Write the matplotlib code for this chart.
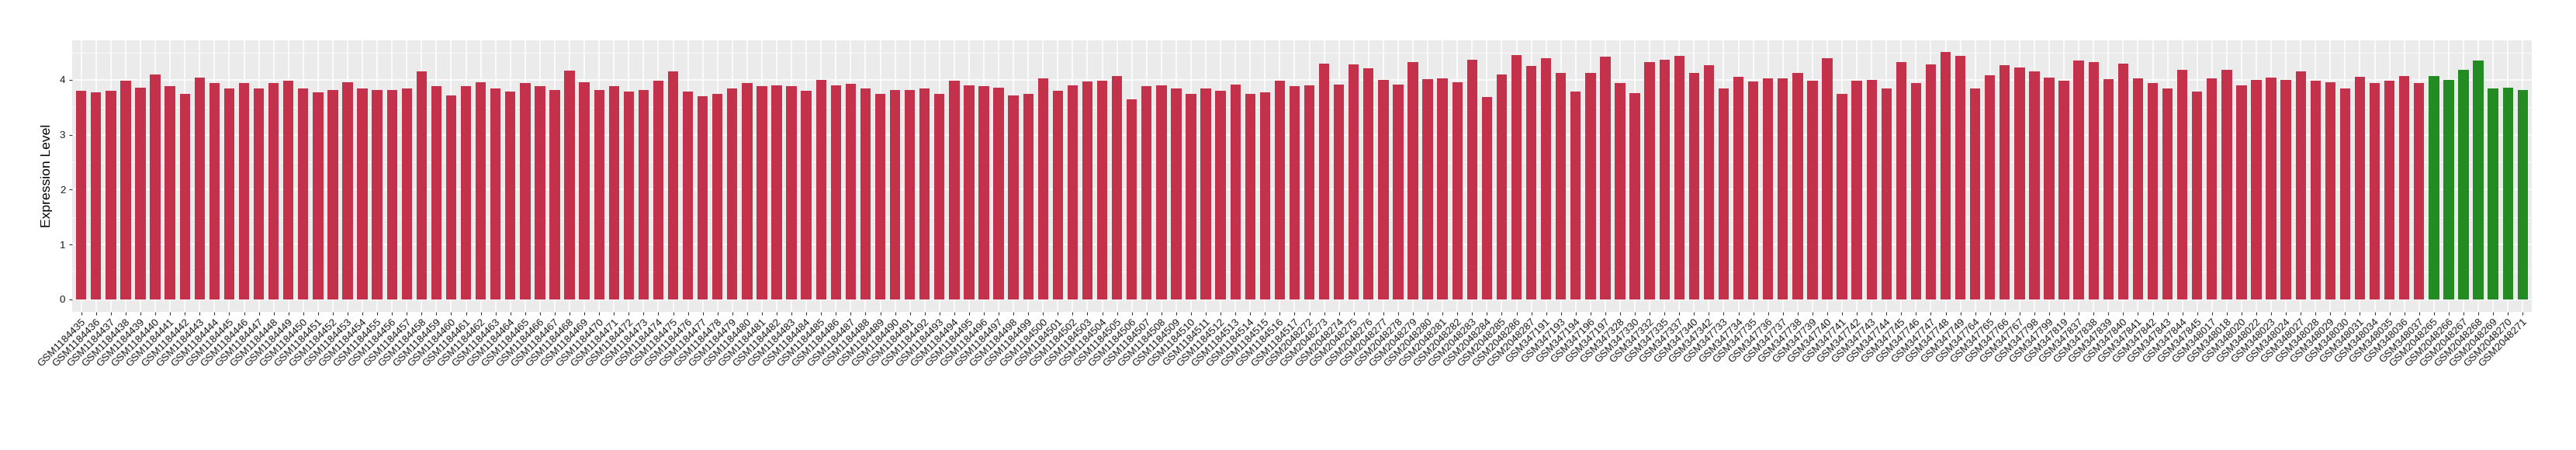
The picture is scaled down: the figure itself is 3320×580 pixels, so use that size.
import matplotlib
matplotlib.use("Agg")
import matplotlib.pyplot as plt
import numpy as np

plt.rcParams['font.family'] = ['Liberation Sans', 'DejaVu Sans']

samples_a = ["GSM%d" % i for i in range(1184435, 1184518)]
samples_b = ["GSM%d" % i for i in range(2048272, 2048288)]
samples_c = ["GSM347191", "GSM347193", "GSM347194", "GSM347196", "GSM347197",
             "GSM347328", "GSM347330", "GSM347332", "GSM347335", "GSM347337",
             "GSM347340", "GSM347342",
             "GSM347733", "GSM347734", "GSM347735", "GSM347736", "GSM347737",
             "GSM347738", "GSM347739", "GSM347740", "GSM347741", "GSM347742",
             "GSM347743", "GSM347744", "GSM347745", "GSM347746", "GSM347747",
             "GSM347748", "GSM347749", "GSM347764", "GSM347765", "GSM347766",
             "GSM347767", "GSM347798", "GSM347799", "GSM347819", "GSM347837",
             "GSM347838", "GSM347839", "GSM347840", "GSM347841", "GSM347842",
             "GSM347843", "GSM347844", "GSM347845",
             "GSM348017", "GSM348018", "GSM348020", "GSM348022", "GSM348023",
             "GSM348024", "GSM348027", "GSM348028", "GSM348029", "GSM348030",
             "GSM348031", "GSM348034", "GSM348035", "GSM348036", "GSM348037"]
samples_normal = ["GSM%d" % i for i in range(2048265, 2048272)]

values_a = [3.80, 3.77, 3.80, 3.98, 3.86, 4.10, 3.88, 3.74, 4.04, 3.94,
            3.84, 3.94, 3.84, 3.94, 3.99, 3.85, 3.77, 3.81, 3.95, 3.85,
            3.81, 3.81, 3.85, 4.15,
            3.88, 3.72, 3.88, 3.95, 3.84, 3.79, 3.94, 3.88, 3.81, 4.17,
            3.95, 3.81, 3.89, 3.79, 3.81,
            3.98, 4.15, 3.79, 3.70, 3.75, 3.85, 3.94, 3.89, 3.90, 3.89,
            3.80, 4.00, 3.90, 3.93,
            3.84, 3.75, 3.81, 3.81, 3.85, 3.75, 3.99, 3.90, 3.89, 3.86,
            3.72, 3.75, 4.03, 3.80,
            3.90, 3.97, 3.99, 4.07, 3.65, 3.89, 3.90, 3.85, 3.74, 3.85,
            3.80, 3.92, 3.74, 3.77, 3.99,
            3.88]
values_b = [3.90, 4.30, 3.92, 4.28, 4.21, 4.00, 3.92, 4.32, 4.02, 4.03,
            3.95, 4.37, 3.69, 4.10, 4.45, 4.26]
values_c = [4.39, 4.13, 3.79, 4.12, 4.42,
            3.94, 3.76, 4.32, 4.37, 4.44, 4.12, 4.27,
            3.84, 4.06, 3.97, 4.03, 4.03, 4.13, 3.98, 4.40, 3.75, 3.99,
            4.00, 3.84, 4.33, 3.94, 4.28, 4.51, 4.44,
            3.84, 4.09, 4.27, 4.22, 4.16, 4.04, 3.98,
            4.36, 4.32, 4.02, 4.30, 4.03, 3.94, 3.84, 4.18, 3.79,
            4.03, 4.18, 3.90, 4.00, 4.04, 4.00, 4.15, 3.98, 3.95, 3.85,
            4.06, 3.94, 3.99, 4.07, 3.94]
values_normal = [4.07, 4.00, 4.18, 4.36, 3.84, 3.86, 3.81]

tumor_color = "#C3314A"
normal_color = "#228B22"

labels = samples_a + samples_b + samples_c + samples_normal
values = values_a + values_b + values_c + values_normal
colors = [tumor_color] * (len(samples_a) + len(samples_b) + len(samples_c)) + \
         [normal_color] * len(samples_normal)

fig = plt.figure(figsize=(33.2, 5.8), dpi=100)
ax = fig.add_axes([93.3 / 3320, 1 - 401.7 / 580, (3262.7 - 93.3) / 3320, 350 / 580])

x = np.arange(len(labels))
ax.bar(x, values, width=0.7, color=colors, zorder=3)

ax.set_facecolor("#EBEBEB")
ax.set_xlim(-0.6, len(labels) - 1 + 0.6)
ax.set_ylim(-0.225, 4.725)
ax.set_yticks([0, 1, 2, 3, 4])
ax.set_yticks([0.5, 1.5, 2.5, 3.5, 4.5], minor=True)
ax.set_xticks(x)
ax.set_xticklabels(labels, rotation=45, ha='right', va='top', rotation_mode='anchor',
                   fontsize=9.6, color='#1a1a1a')
ax.tick_params(axis='y', labelsize=9.6, labelcolor='#1a1a1a', color='#333333',
               length=3, width=0.8)
ax.tick_params(axis='x', color='#333333', length=3, width=0.8, pad=2)
ax.tick_params(axis='y', which='minor', length=0)
ax.grid(which='major', color='white', linewidth=1.1, zorder=0)
ax.grid(which='minor', axis='y', color='white', linewidth=0.55, zorder=0)
ax.set_axisbelow(True)
for s in ax.spines.values():
    s.set_visible(False)
ax.set_ylabel("Expression Level", fontsize=12.6, color='black', labelpad=6)

fig.savefig("out.png", dpi=100)
